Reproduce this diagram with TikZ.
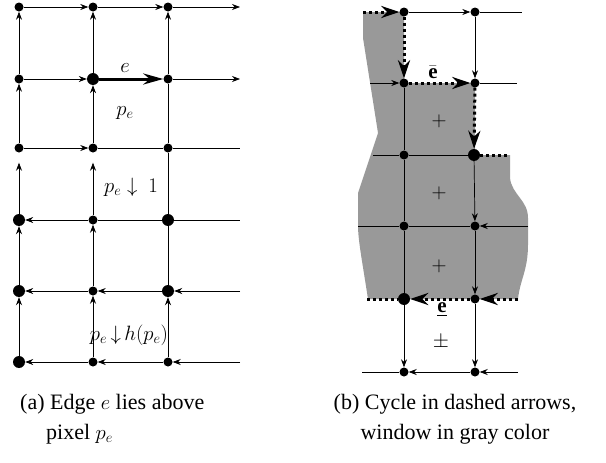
\documentclass[tikz,border=0pt]{standalone}
\usepackage{amsmath,amssymb}
\usepackage{fontspec}
\setmainfont{Liberation Serif}
\usepackage{tikz}
\usetikzlibrary{arrows.meta}
\usepackage{xcolor}
\definecolor{wincol}{RGB}{153,153,153}
\tikzset{
  % lattice vertex
  vnode/.style={circle, fill=black, inner sep=0pt, minimum size=9pt},
  % bigger lattice vertex
  bvnode/.style={vnode, minimum size=12pt},
  % plain lattice edge
  ledge/.style={black, line width=0.7pt},
  % small arrow on a lattice edge
  sarrow/.style={ledge, -{Stealth[length=8pt,width=6pt]}},
  % the bold edge e
  barrow/.style={line width=3pt, -{Stealth[length=20pt,width=11pt]}},
  % dotted cycle edge
  cycedge/.style={line width=3pt, dash pattern=on 3pt off 3pt},
  cycarrow/.style={cycedge, -{Stealth[length=18pt,width=12pt]}},
  % labels inside the lattice
  lab/.style={font=\fontsize{21}{24}\selectfont, inner sep=1pt},
  % caption lines
  captxt/.style={font=\fontsize{22}{30}\selectfont, inner sep=0pt},
}

\begin{document}
\begin{tikzpicture}[x=1pt, y=-1pt]
  \useasboundingbox (0,0) rectangle (606,463);

  % ── RIGHT: window in gray (drawn first) ──
  \fill[wincol] (363,12) -- (404,12) -- (404,83) -- (475,83) -- (475,155) -- (510,155)
    -- (510,178) .. controls (512,195) and (528,200) .. (528,218) -- (528,245)
    .. controls (528,270) and (520,280) .. (518,299) -- (368,299)
    .. controls (362,260) and (358,240) .. (358,225) -- (358,193) -- (378,133) -- (363,38) -- cycle;

  % ── LEFT: edge e above pixel p_e ──
  \node[vnode]  (l11) at (19,7)   {};
  \node[vnode]  (l12) at (93,7)   {};
  \node[vnode]  (l13) at (168,7)  {};
  \node[vnode]  (l21) at (19,79)  {};
  \node[bvnode] (l22) at (93,79)  {};
  \node[vnode]  (l23) at (168,79) {};
  \node[vnode]  (l31) at (19,148) {};
  \node[vnode]  (l32) at (93,148) {};
  \node[vnode]  (l33) at (168,148) {};
  \node[bvnode] (l41) at (19,220) {};
  \node[vnode]  (l42) at (93,220) {};
  \node[bvnode] (l43) at (168,220) {};
  \node[bvnode] (l51) at (19,291) {};
  \node[vnode]  (l52) at (93,291) {};
  \node[bvnode] (l53) at (168,291) {};
  \node[bvnode] (l61) at (19,362) {};
  \node[vnode]  (l62) at (93,362) {};
  \node[vnode]  (l63) at (168,362) {};
  \coordinate (le1) at (240,7);
  \coordinate (le2) at (240,79);
  \coordinate (le3) at (240,148);
  \coordinate (le4) at (240,220);
  \coordinate (le5) at (240,291);
  \coordinate (le6) at (240,362);

  % rows
  \draw[sarrow] (l11) -- (l12);
  \draw[sarrow] (l12) -- (l13);
  \draw[sarrow] (l13) -- (le1);
  \draw[sarrow] (l21) -- (l22);
  \draw[barrow] (l22) -- (l23);
  \draw[sarrow] (l23) -- (le2);
  \draw[sarrow] (l31) -- (l32);
  \draw[ledge] (l32) -- (l33) -- (le3);
  \draw[sarrow] (l42) -- (l41);
  \draw[ledge] (l42) -- (l43) -- (le4);
  \draw[sarrow] (l52) -- (l51);
  \draw[sarrow] (l53) -- (l52);
  \draw[sarrow] (le5) -- (l53);
  \draw[sarrow] (l62) -- (l61);
  \draw[sarrow] (l63) -- (l62);
  \draw[sarrow] (le6) -- (l63);
  % columns
  \draw[sarrow] (l21) -- (l11);
  \draw[sarrow] (l31) -- (l21);
  \draw[sarrow, shorten >=10pt] (l41) -- (l31);
  \draw[sarrow] (l51) -- (l41);
  \draw[sarrow] (l61) -- (l51);
  \draw[sarrow] (l22) -- (l12);
  \draw[sarrow] (l32) -- (l22);
  \draw[sarrow, shorten >=10pt] (l42) -- (l32);
  \draw[sarrow] (l52) -- (l42);
  \draw[sarrow] (l62) -- (l52);
  \draw[sarrow] (l23) -- (l13);
  \draw[ledge] (l23) -- (l33) -- (l43) -- (l53);
  \draw[sarrow] (l63) -- (l53);

  \node[lab] (labe)  at (125,68)  {$e$};
  \node[lab] (labpe) at (125,113) {$p_e$};
  \node[lab] (labp1) at (131,187) {$p_e\downarrow\ 1$};
  \node[lab] (labph) at (129,335) {$p_e\,{\downarrow}\,h(p_e)$};

  % ── RIGHT: cycle in dotted arrows ──
  \node[vnode]  (r11) at (404,12)  {};
  \node[vnode]  (r12) at (475,12)  {};
  \node[vnode]  (r21) at (404,83)  {};
  \node[vnode]  (r22) at (475,83)  {};
  \node[vnode]  (r31) at (404,155) {};
  \node[bvnode] (r32) at (474,155) {};
  \node[vnode]  (r41) at (404,226) {};
  \node[vnode]  (r42) at (475,226) {};
  \node[bvnode] (r51) at (404,299) {};
  \node[vnode]  (r52) at (475,299) {};
  \node[vnode]  (r61) at (404,372) {};
  \node[vnode]  (r62) at (475,372) {};
  \coordinate (rl1) at (363,12);
  \coordinate (rl2) at (370,83);
  \coordinate (rl3) at (373,155);
  \coordinate (rl4) at (358,226);
  \coordinate (rl5) at (367,299);
  \coordinate (rl6) at (362,372);
  \coordinate (rr1) at (522,12);
  \coordinate (rr2) at (517,83);
  \coordinate (rr3) at (510,155);
  \coordinate (rr4) at (528,226);
  \coordinate (rr5) at (518,299);
  \coordinate (rr6) at (518,372);

  % rows
  \draw[cycarrow] (rl1) -- (r11);
  \draw[sarrow] (r11) -- (r12);
  \draw[ledge] (r12) -- (rr1);
  \draw[sarrow] (rl2) -- (r21);
  \draw[cycarrow] (r21) -- (r22);
  \draw[ledge] (r22) -- (rr2);
  \draw[ledge] (rl3) -- (r31) -- (r32);
  \draw[cycedge] (r32) -- (rr3);
  \draw[ledge] (rl4) -- (r41) -- (r42);
  \draw[sarrow] (rr4) -- (r42);
  \draw[cycedge] (rl5) -- (r51);
  \draw[cycarrow] (r52) -- (r51);
  \draw[cycarrow] (rr5) -- (r52);
  \draw[ledge] (rl6) -- (r61);
  \draw[sarrow] (r62) -- (r61);
  \draw[sarrow] (rr6) -- (r62);
  % columns
  \draw[cycarrow] (r11) -- (r21);
  \draw[ledge] (r21) -- (r31) -- (r41) -- (r51);
  \draw[sarrow] (r51) -- (r61);
  \draw[sarrow] (r12) -- (r22);
  \draw[cycarrow] (r22) -- (r32);
  \draw[sarrow] (r32) -- (r42);
  \draw[sarrow] (r42) -- (r52);
  \draw[sarrow] (r52) -- (r62);

  \node[lab] (labeb) at (433,72)  {$\bar{\mathbf{e}}$};
  \node[lab] (plus1) at (439,121) {$+$};
  \node[lab] (plus2) at (439,193) {$+$};
  \node[lab] (plus3) at (439,266) {$+$};
  \node[lab] (labeu) at (442,310) {\underline{\textbf{e}}};
  \node[lab] (labpm) at (441,342) {$\pm$};

  % ── captions ──
  \node[captxt, anchor=base west] (capa1) at (20,409) {(a) Edge $e$ lies above};
  \node[captxt, anchor=base west] (capa2) at (46,439) {pixel $p_e$};
  \node[captxt, anchor=base] (capb1) at (455,409) {(b) Cycle in dashed arrows,};
  \node[captxt, anchor=base] (capb2) at (455,439) {window in gray color};
\end{tikzpicture}
\end{document}
